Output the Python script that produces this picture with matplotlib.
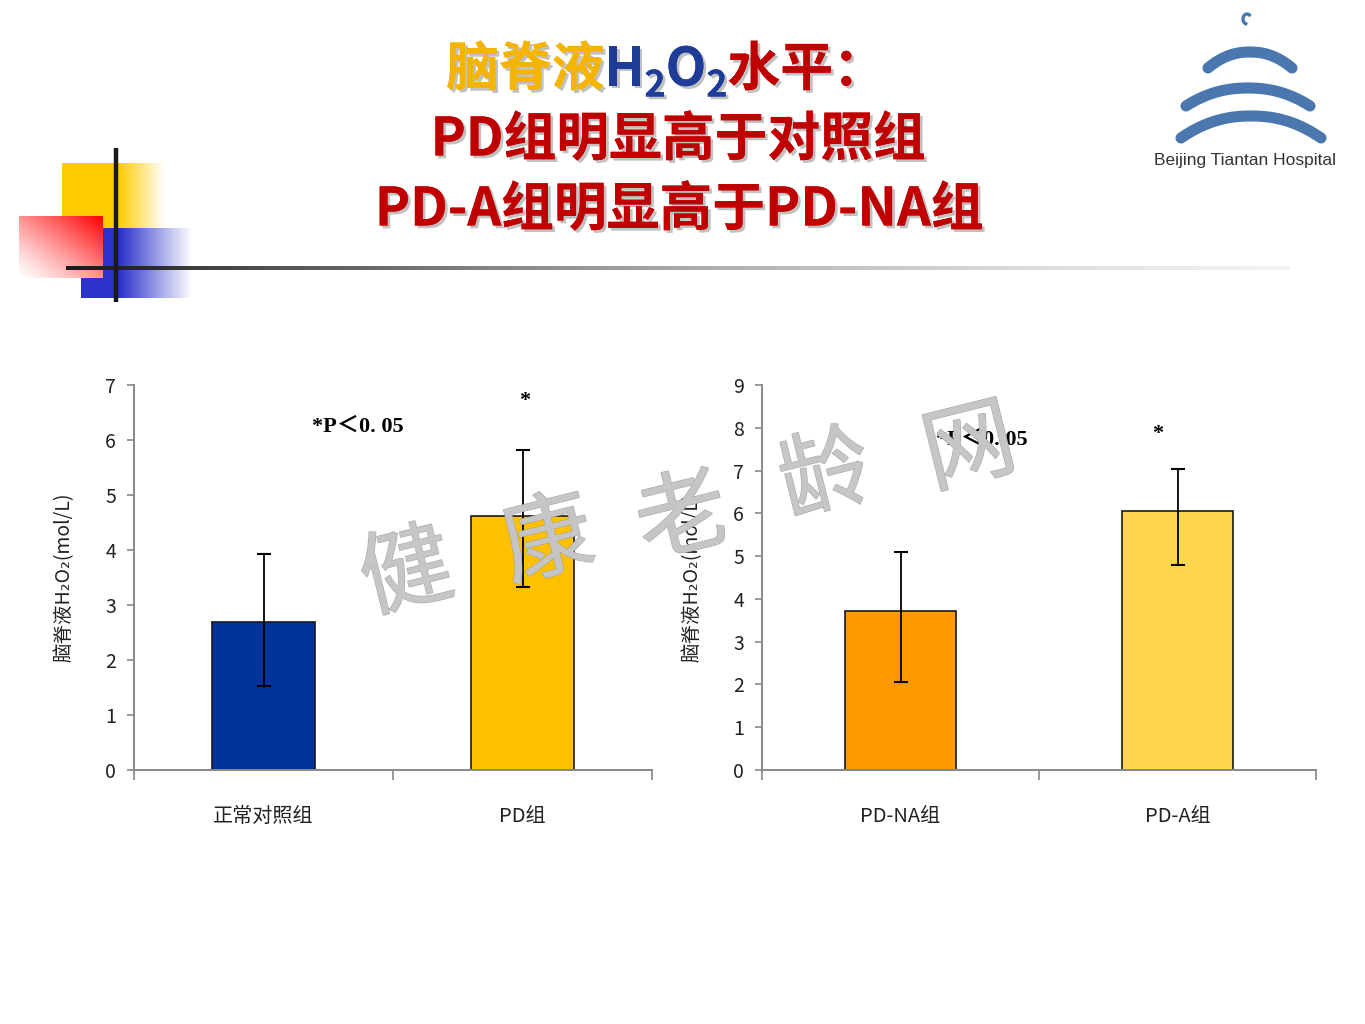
import numpy as np
import matplotlib
matplotlib.use('Agg')
import matplotlib.pyplot as plt
import matplotlib.patheffects as pe

plt.rcParams['font.family'] = ['Noto Sans CJK SC', 'DejaVu Sans']

# ── data ────────────────────────────────────────────────────────────────────
left_groups = ['正常对照组', 'PD组']
left_means = [2.69, 4.62]
left_err_low = [1.16, 1.29]
left_err_high = [1.23, 1.20]
left_colors = ['#003399', '#FFC000']

right_groups = ['PD-NA组', 'PD-A组']
right_means = [3.72, 6.06]
right_err_low = [1.67, 1.27]
right_err_high = [1.38, 0.98]
right_colors = ['#FF9900', '#FFD54F']

ylabel = '脑脊液H₂O₂(mol/L)'
p_text = '*P＜0. 05'

W, H = 1365, 1024
fig = plt.figure(figsize=(W / 100, H / 100), dpi=100)

# ── background decoration (pixel coordinates) ──────────────────────────────
bg = fig.add_axes([0, 0, 1, 1], zorder=-1)
bg.axis('off')


def hgrad(rgb, solid_frac, n=200):
    a = np.ones(n)
    k = int(n * solid_frac)
    a[k:] = np.linspace(1, 0, n - k)
    img = np.zeros((1, n, 4))
    img[0, :, :3] = rgb
    img[0, :, 3] = a
    return img


bg.imshow(hgrad((1.0, 0.8, 0.0), 0.55), extent=(62, 165, 228, 163), aspect='auto')
bg.imshow(hgrad((0.17, 0.2, 0.8), 0.35), extent=(81, 192, 298, 228), aspect='auto')

u, v = np.meshgrid(np.linspace(0, 1, 60), np.linspace(0, 1, 60))
inten = np.clip((u + (1 - v)) / 2, 0.03, 1) ** 1.2
red = np.ones((60, 60, 4))
red[..., 1] = 1 - inten
red[..., 2] = 1 - inten
bg.imshow(red, extent=(19, 103, 278, 216), aspect='auto')

# horizontal fading rule
n = 400
rule = np.zeros((1, n, 4))
g = np.linspace(0.1, 0.85, n)
rule[0, :, 0] = g
rule[0, :, 1] = g
rule[0, :, 2] = g
rule[0, :, 3] = np.linspace(1, 0.3, n)
bg.imshow(rule, extent=(66, 1290, 270, 266), aspect='auto')
bg.plot([116, 116], [148, 302], color='#1a1a1a', lw=3.2, solid_capstyle='butt')

# logo arches
logo_c = '#4A78AE'
for cx, halfw, ytop, drop in [(1250, 42, 52, 16), (1248, 62, 88, 18), (1251, 70, 116, 22)]:
    t = np.linspace(0.0, 1.0, 60)
    xs = cx - halfw + 2 * halfw * t
    ys = ytop + drop * np.abs(2 * t - 1) ** 2.2
    bg.plot(xs, ys, color=logo_c, lw=8, solid_capstyle='round')
tt = np.linspace(0.6 * np.pi, 1.7 * np.pi, 30)
bg.plot(1247 + 4 * np.cos(tt), 19 + 5 * np.sin(tt), color=logo_c, lw=2.4)
bg.text(1245, 160, 'Beijing Tiantan Hospital', ha='center', va='center',
        fontsize=12.5, color='#333333', family=['Liberation Sans', 'DejaVu Sans'])

bg.set_xlim(0, W)
bg.set_ylim(H, 0)

# ── title ───────────────────────────────────────────────────────────────────
shadow = [pe.withSimplePatchShadow(offset=(2, -2), shadow_rgbFace='#999999', alpha=0.6), pe.Normal()]
red_c = '#C00000'
title_fs = 38


def draw_pieces(pieces, xc, yc):
    r = fig.canvas.get_renderer()
    objs = []
    for s, col, fs, dy in pieces:
        t = bg.text(0, yc + dy, s, color=col, fontsize=fs, fontweight='bold',
                    va='center', ha='left', path_effects=shadow)
        objs.append(t)
    widths = []
    for t in objs:
        bb = t.get_window_extent(renderer=r)
        widths.append(bb.width)
    x = xc - sum(widths) / 2
    for t, w in zip(objs, widths):
        t.set_x(x)
        x += w


draw_pieces([('脑脊液', '#F5B400', title_fs, 0),
             ('H', '#1F3C99', title_fs, 0),
             ('2', '#1F3C99', 26, 16),
             ('O', '#1F3C99', title_fs, 0),
             ('2', '#1F3C99', 26, 16),
             ('水平：', red_c, title_fs, 0)], 666, 70)
draw_pieces([('PD组明显高于对照组', red_c, title_fs, 0)], 678, 140)
draw_pieces([('PD-A组明显高于PD-NA组', red_c, title_fs, 0)], 679, 210)

# ── charts ──────────────────────────────────────────────────────────────────
ax1 = fig.add_axes([134 / W, 1 - 770 / H, 518 / W, 385 / H])
ax2 = fig.add_axes([762 / W, 1 - 770 / H, 554 / W, 385 / H])


def bar_panel(ax, groups, means, lo, hi, colors, ymax, p_xy, star_xy):
    x = np.arange(len(groups))
    ax.bar(x, means, width=0.4, color=colors, edgecolor='#1a1a1a', linewidth=1.2, zorder=2)
    ax.errorbar(x, means, yerr=[lo, hi], fmt='none', ecolor='black',
                elinewidth=1.3, capsize=5, capthick=1.5, zorder=3)
    ax.set_xlim(-0.5, len(groups) - 0.5)
    ax.set_ylim(0, ymax)
    ax.set_yticks(range(0, ymax + 1))
    ax.set_xticks(x)
    ax.set_xticklabels(groups, fontsize=14.5, color='#222222')
    ax.set_xticks(np.arange(-0.5, len(groups), 1.0), minor=True)
    ax.tick_params(axis='x', which='major', length=0, pad=26)
    ax.tick_params(axis='x', which='minor', length=7, color='#888888', width=1.2)
    ax.tick_params(axis='y', length=5, color='#888888', width=1.2, labelsize=14,
                   labelcolor='#222222', pad=8)
    for s in ['top', 'right']:
        ax.spines[s].set_visible(False)
    for s in ['left', 'bottom']:
        ax.spines[s].set_color('#888888')
        ax.spines[s].set_linewidth(1.4)
    ax.set_ylabel(ylabel, fontsize=14, color='#222222', labelpad=22)
    ax.text(*p_xy, p_text, ha='center', va='center', fontsize=16, fontweight='bold',
            family=['Liberation Serif', 'Noto Sans CJK SC'])
    ax.text(*star_xy, '*', ha='center', va='center', fontsize=16, fontweight='bold',
            family=['Liberation Serif'])


bar_panel(ax1, left_groups, left_means, left_err_low, left_err_high, left_colors, 7,
          (0.365, 6.25), (1.01, 6.7))
bar_panel(ax2, right_groups, right_means, right_err_low, right_err_high, right_colors, 9,
          (0.294, 7.73), (0.93, 7.85))

# ── watermark ───────────────────────────────────────────────────────────────
wm = [('健', 407, 575), ('康', 548, 543), ('老', 683, 520), ('龄', 826, 478), ('网', 970, 450)]
for ch, px, py in wm:
    fig.text(px / W, 1 - py / H, ch, ha='center', va='center', fontsize=66,
             color='#C6C6C6', alpha=0.9, rotation=14, zorder=10, fontweight='light',
             path_effects=[pe.withStroke(linewidth=1.0, foreground='#a0a0a0'), pe.Normal()])

fig.savefig('out.png', dpi=100)
